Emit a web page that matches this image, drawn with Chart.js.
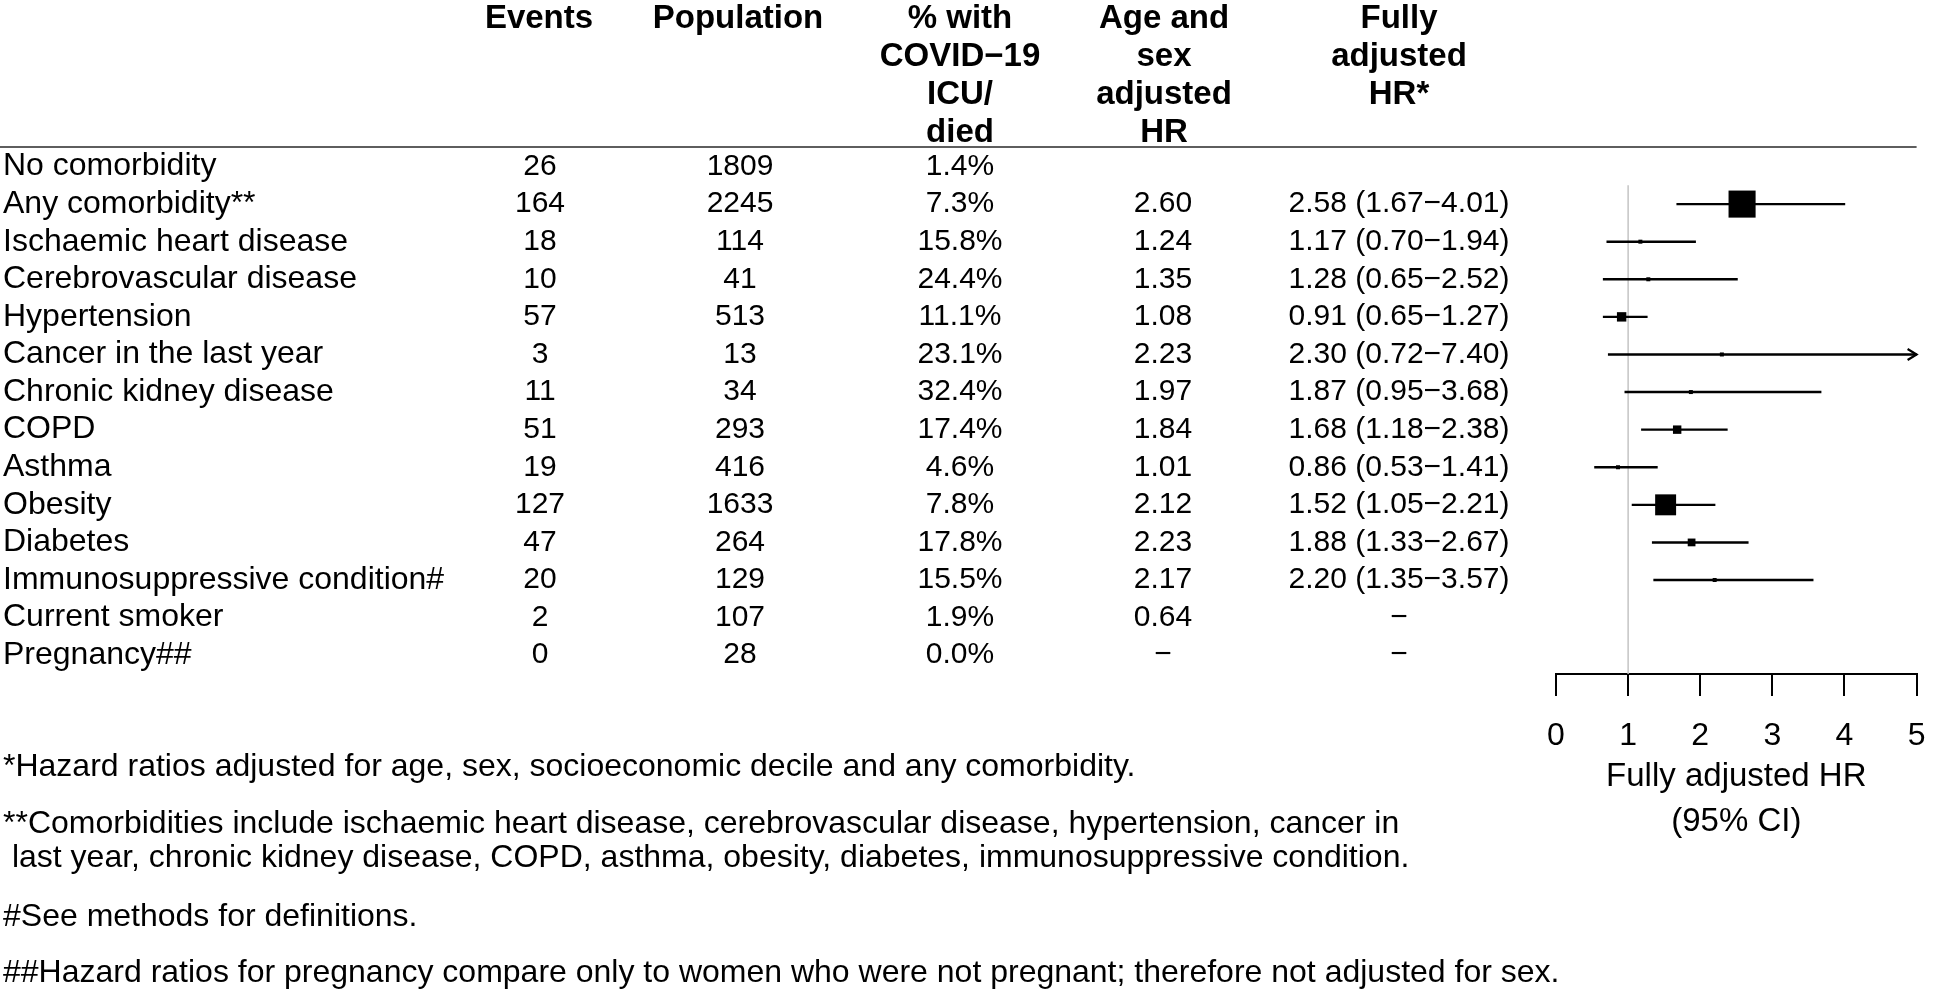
<!DOCTYPE html>
<html><head><meta charset="utf-8">
<script src="https://cdn.jsdelivr.net/npm/chart.js@4"></script>
<style>html,body{margin:0;padding:0;background:#fff;}#wrap{width:1946px;height:990px;position:relative;}</style>
</head><body><div id="wrap"><canvas id="c"></canvas></div>
<script>
// ---------- data ----------
const categories = ["No comorbidity","Any comorbidity**","Ischaemic heart disease","Cerebrovascular disease","Hypertension","Cancer in the last year","Chronic kidney disease","COPD","Asthma","Obesity","Diabetes","Immunosuppressive condition#","Current smoker","Pregnancy##"];
const events = [26,164,18,10,57,3,11,51,19,127,47,20,2,0];
const population = [1809,2245,114,41,513,13,34,293,416,1633,264,129,107,28];
const pctICUDied = [1.4,7.3,15.8,24.4,11.1,23.1,32.4,17.4,4.6,7.8,17.8,15.5,1.9,0.0];
const ageSexHR = [null,2.60,1.24,1.35,1.08,2.23,1.97,1.84,1.01,2.12,2.23,2.17,0.64,null];
const fullyHR = [null,2.58,1.17,1.28,0.91,2.30,1.87,1.68,0.86,1.52,1.88,2.20,null,null];
const ciLower = [null,1.67,0.70,0.65,0.65,0.72,0.95,1.18,0.53,1.05,1.33,1.35,null,null];
const ciUpper = [null,4.01,1.94,2.52,1.27,7.40,3.68,2.38,1.41,2.21,2.67,3.57,null,null];
const xTicks = [0,1,2,3,4,5];
const referenceHR = 1;
const colHeaders = [
  ["Events"],
  ["Population"],
  ["% with","COVID\u221219","ICU/","died"],
  ["Age and","sex","adjusted","HR"],
  ["Fully","adjusted","HR*"]
];
const axisTitle = ["Fully adjusted HR","(95% CI)"];
const footnotes = [
  "*Hazard ratios adjusted for age, sex, socioeconomic decile and any comorbidity.",
  "**Comorbidities include ischaemic heart disease, cerebrovascular disease, hypertension, cancer in",
  " last year, chronic kidney disease, COPD, asthma, obesity, diabetes, immunosuppressive condition.",
  "#See methods for definitions.",
  "##Hazard ratios for pregnancy compare only to women who were not pregnant; therefore not adjusted for sex."
];

// ---------- layout / style ----------
const FONT = "'Liberation Sans', Arial, Helvetica, sans-serif";
const FS_LABEL = 32, FS_VAL = 30, FS_HEAD = 33, FS_FOOT = 32;
const X_MIN = 0, X_MAX = 5;
const headerX = [539, 738, 960, 1164, 1399];
const valueX  = [540, 740, 960, 1163, 1399];
const headerY = [19, 57, 95, 133];
const footY = [767, 824, 858, 917, 973];
const DASH = "\u2212";

const fmt2 = v => v.toFixed(2);

const boxes = [];
const boxRadius = [];
const ciPts = [];
const arrowRows = [];
categories.forEach((c, i) => {
  if (fullyHR[i] == null) return;
  boxes.push({x: fullyHR[i], y: i});
  const side = Math.max(4, 0.165 * events[i]);
  boxRadius.push(side / Math.SQRT2);
  ciPts.push({x: ciLower[i], y: i});
  ciPts.push({x: Math.min(ciUpper[i], X_MAX), y: i});
  ciPts.push({x: ciLower[i], y: null});
  if (ciUpper[i] > X_MAX) arrowRows.push(i);
});

function txt(ctx, t, x, y, align) {
  ctx.textAlign = align;
  ctx.fillText(t, x, y);
}

const tablePlugin = {
  id: 'table',
  beforeDraw(chart) {
    const ctx = chart.ctx;
    ctx.save();
    ctx.fillStyle = '#fff';
    ctx.fillRect(0, 0, chart.width, chart.height);
    ctx.restore();
  },
  beforeDatasetsDraw(chart) {
    const ctx = chart.ctx, xs = chart.scales.x, ys = chart.scales.y;
    ctx.save();
    ctx.strokeStyle = '#c4c4c4';
    ctx.lineWidth = 1.5;
    const px = xs.getPixelForValue(referenceHR);
    ctx.beginPath();
    ctx.moveTo(px, ys.getPixelForValue(0.5));
    ctx.lineTo(px, chart.chartArea.bottom);
    ctx.stroke();
    ctx.restore();
  },
  afterDatasetsDraw(chart) {
    const ctx = chart.ctx, xs = chart.scales.x, ys = chart.scales.y;
    ctx.save();
    ctx.strokeStyle = '#000';
    ctx.lineWidth = 2.2;
    arrowRows.forEach(i => {
      const px = xs.getPixelForValue(X_MAX), py = ys.getPixelForValue(i);
      ctx.beginPath();
      ctx.moveTo(px - 9, py - 5.5);
      ctx.lineTo(px, py);
      ctx.lineTo(px - 9, py + 5.5);
      ctx.stroke();
    });
    ctx.restore();
  },
  afterDraw(chart) {
    const ctx = chart.ctx, ys = chart.scales.y, xs = chart.scales.x;
    ctx.save();
    ctx.fillStyle = '#000';
    ctx.textBaseline = 'middle';
    // headers
    ctx.font = `bold ${FS_HEAD}px ${FONT}`;
    colHeaders.forEach((lines, c) => {
      lines.forEach((t, k) => txt(ctx, t, headerX[c], headerY[k], 'center'));
    });
    // rule
    ctx.strokeStyle = '#5e5e5e';
    ctx.lineWidth = 2;
    ctx.beginPath();
    ctx.moveTo(0, 147);
    ctx.lineTo(xs.getPixelForValue(X_MAX), 147);
    ctx.stroke();
    // rows
    categories.forEach((cat, i) => {
      const y = ys.getPixelForValue(i);
      ctx.font = `${FS_LABEL}px ${FONT}`;
      txt(ctx, cat, 3, y, 'left');
      ctx.font = `${FS_VAL}px ${FONT}`;
      txt(ctx, String(events[i]), valueX[0], y, 'center');
      txt(ctx, String(population[i]), valueX[1], y, 'center');
      txt(ctx, pctICUDied[i].toFixed(1) + '%', valueX[2], y, 'center');
      if (i > 0) {
        txt(ctx, ageSexHR[i] == null ? DASH : fmt2(ageSexHR[i]), valueX[3], y, 'center');
        txt(ctx, fullyHR[i] == null ? DASH :
          `${fmt2(fullyHR[i])} (${fmt2(ciLower[i])}${DASH}${fmt2(ciUpper[i])})`, valueX[4], y, 'center');
      }
    });
    // footnotes
    ctx.font = `${FS_FOOT}px ${FONT}`;
    footnotes.forEach((t, k) => txt(ctx, t, 3, footY[k], 'left'));
    ctx.restore();
  }
};

Chart.defaults.font.family = FONT;
Chart.defaults.color = '#000';

new Chart(document.getElementById('c'), {
  type: 'scatter',
  data: {
    datasets: [
      {
        label: 'HR',
        data: boxes,
        pointStyle: 'rect',
        pointRadius: boxRadius,
        pointHoverRadius: boxRadius,
        pointBackgroundColor: '#000',
        pointBorderWidth: 0,
        borderWidth: 0,
        clip: false
      },
      {
        type: 'line',
        label: '95% CI',
        data: ciPts,
        borderColor: '#000',
        borderWidth: 2.4,
        pointRadius: 0,
        spanGaps: false,
        fill: false,
        tension: 0,
        clip: 4
      }
    ]
  },
  options: {
    responsive: true,
    maintainAspectRatio: false,
    animation: false,
    events: [],
    layout: { padding: { left: 1556, right: 11, top: 147.7, bottom: 145.5 } },
    plugins: { legend: { display: false }, tooltip: { enabled: false } },
    scales: {
      x: {
        type: 'linear',
        min: X_MIN, max: X_MAX,
        afterBuildTicks: s => { s.ticks = xTicks.map(v => ({value: v})); },
        ticks: { font: { size: 32 }, color: '#000', padding: 20.5, maxRotation: 0, autoSkip: false },
        grid: { drawOnChartArea: false, drawTicks: true, tickLength: 22, color: '#000', lineWidth: 2 },
        border: { display: true, color: '#000', width: 2 },
        title: { display: true, text: axisTitle, font: { size: 33, lineHeight: 45/33 }, color: '#000', padding: { top: -20.9, bottom: 0 } }
      },
      y: {
        type: 'linear',
        reverse: true,
        min: -0.5, max: 13.5,
        display: false
      }
    }
  },
  plugins: [tablePlugin]
});
</script>
</body></html>
